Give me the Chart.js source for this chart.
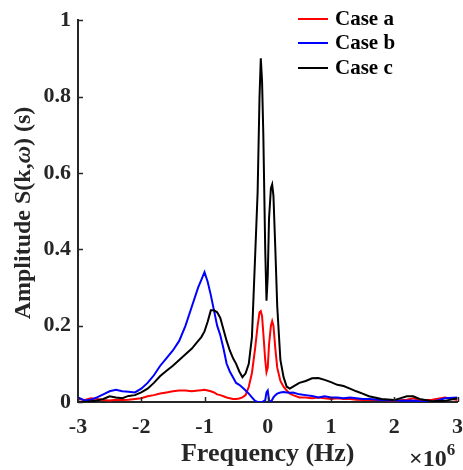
<!DOCTYPE html>
<html>
<head>
<meta charset="utf-8">
<script src="https://cdn.jsdelivr.net/npm/chart.js@4.4.0/dist/chart.umd.min.js"></script>
<style>
  html, body { margin: 0; padding: 0; background: #fff; overflow: hidden; }
  #wrap { width: 475px; height: 470px; }
</style>
</head>
<body>
<div id="wrap"><canvas id="myChart" width="475" height="470"></canvas></div>
<script>
// frequency in units of 1e6 Hz
const freq = [-3.0, -2.9, -2.8, -2.7, -2.6, -2.5, -2.4, -2.3, -2.2, -2.1,
  -2.0, -1.9, -1.8, -1.7, -1.6, -1.5, -1.4, -1.3, -1.2, -1.1,
  -1.05, -1.0, -0.95, -0.9, -0.85, -0.8, -0.75, -0.7, -0.65, -0.6,
  -0.55, -0.5, -0.45, -0.4, -0.35, -0.3, -0.25, -0.2, -0.16, -0.13,
  -0.11, -0.09, -0.07, -0.04, -0.02, 0.0, 0.02, 0.05, 0.07, 0.09,
  0.12, 0.15, 0.2, 0.25, 0.3, 0.35, 0.4, 0.5, 0.6, 0.7,
  0.8, 0.9, 1.0, 1.1, 1.2, 1.3, 1.4, 1.5, 1.6, 1.8,
  2.0, 2.2, 2.3, 2.4, 2.6, 2.8, 3.0]

const caseA = [0.008, 0.005, 0.010, 0.008, 0.005, 0.004, 0.006, 0.005, 0.006, 0.008,
  0.010, 0.015, 0.018, 0.022, 0.025, 0.028, 0.030, 0.030, 0.028, 0.030,
  0.031, 0.032, 0.030, 0.028, 0.025, 0.020, 0.018, 0.015, 0.012, 0.010,
  0.008, 0.008, 0.009, 0.012, 0.018, 0.040, 0.076, 0.140, 0.200, 0.235,
  0.238, 0.225, 0.180, 0.110, 0.078, 0.090, 0.150, 0.200, 0.212, 0.200,
  0.140, 0.090, 0.055, 0.040, 0.030, 0.022, 0.018, 0.012, 0.012, 0.010,
  0.012, 0.010, 0.008, 0.010, 0.008, 0.008, 0.006, 0.005, 0.006, 0.005,
  0.003, 0.006, 0.010, 0.004, 0.006, 0.012, 0.005]

const caseB = [0.012, 0.004, 0.006, 0.012, 0.020, 0.028, 0.032, 0.028, 0.027, 0.025,
  0.035, 0.050, 0.070, 0.095, 0.115, 0.135, 0.160, 0.200, 0.250, 0.300,
  0.320, 0.340, 0.315, 0.280, 0.240, 0.200, 0.175, 0.140, 0.100, 0.080,
  0.065, 0.050, 0.045, 0.038, 0.030, 0.022, 0.012, 0.003, 0.000, 0.000,
  0.000, 0.000, 0.002, 0.005, 0.025, 0.030, 0.005, 0.000, 0.006, 0.012,
  0.018, 0.022, 0.025, 0.026, 0.025, 0.024, 0.025, 0.020, 0.018, 0.016,
  0.012, 0.015, 0.012, 0.012, 0.010, 0.012, 0.010, 0.008, 0.008, 0.005,
  0.004, 0.003, 0.004, 0.002, 0.000, 0.010, 0.012]

const caseC = [0.000, 0.000, 0.002, 0.004, 0.008, 0.015, 0.012, 0.010, 0.016, 0.018,
  0.025, 0.035, 0.050, 0.068, 0.082, 0.095, 0.110, 0.125, 0.140, 0.160,
  0.170, 0.185, 0.210, 0.240, 0.240, 0.235, 0.220, 0.190, 0.160, 0.135,
  0.115, 0.100, 0.080, 0.065, 0.075, 0.100, 0.170, 0.380, 0.550, 0.800,
  0.900, 0.840, 0.700, 0.400, 0.265, 0.330, 0.480, 0.560, 0.570, 0.540,
  0.400, 0.250, 0.110, 0.065, 0.040, 0.035, 0.040, 0.050, 0.055, 0.062,
  0.063, 0.058, 0.052, 0.045, 0.042, 0.035, 0.028, 0.022, 0.015, 0.008,
  0.005, 0.015, 0.015, 0.008, 0.002, 0.003, 0.010]

const seriesNames = ['Case a', 'Case b', 'Case c']
const xTicks = [-3, -2, -1, 0, 1, 2, 3]
const yTicks = [0, 0.2, 0.4, 0.6, 0.8, 1]

const FONT = '"Liberation Serif", "Times New Roman", serif'
const AXIS = '#262626'

function pts(vals) {
  return freq.map((f, i) => ({ x: f, y: vals[i] }))
}

// inward ticks, legend, y title with italic omega, x10^6 label
const extras = {
  id: 'extras',
  afterDraw(chart) {
    const ctx = chart.ctx
    const xs = chart.scales.x, ys = chart.scales.y
    const { left, bottom } = chart.chartArea
    ctx.save()
    ctx.strokeStyle = AXIS
    ctx.lineWidth = 1.5
    yTicks.forEach(v => {
      const py = Math.round(ys.getPixelForValue(v)) + 0.5
      ctx.beginPath(); ctx.moveTo(left, py); ctx.lineTo(left + 5, py); ctx.stroke()
    })
    xTicks.forEach(v => {
      const px = Math.round(xs.getPixelForValue(v)) + 0.5
      ctx.beginPath(); ctx.moveTo(px, bottom); ctx.lineTo(px, bottom - 5); ctx.stroke()
    })

    // legend
    ctx.textBaseline = 'middle'
    ctx.textAlign = 'left'
    ctx.font = 'bold 21px ' + FONT
    const rows = [19, 43, 68]
    chart.data.datasets.forEach((ds, i) => {
      ctx.strokeStyle = ds.borderColor
      ctx.lineWidth = 2
      ctx.beginPath(); ctx.moveTo(298, rows[i]); ctx.lineTo(328, rows[i]); ctx.stroke()
      ctx.fillStyle = '#000'
      ctx.fillText(ds.label, 335, rows[i] + 1)
    })

    // y title
    const parts = [
      ['Amplitude S(k,', 'bold 24px ' + FONT],
      ['\u03c9', 'italic bold 24px ' + FONT],
      [') (s)', 'bold 24px ' + FONT]
    ]
    let total = 0
    parts.forEach(p => { ctx.font = p[1]; total += ctx.measureText(p[0]).width })
    ctx.translate(24, 213)
    ctx.rotate(-Math.PI / 2)
    ctx.fillStyle = AXIS
    let cx = -total / 2
    parts.forEach(p => {
      ctx.font = p[1]
      ctx.fillText(p[0], cx, 0)
      cx += ctx.measureText(p[0]).width
    })
    ctx.restore()

    // exponent label
    ctx.save()
    ctx.fillStyle = AXIS
    ctx.textBaseline = 'alphabetic'
    ctx.font = 'bold 24px ' + FONT
    ctx.fillText('\u00d710', 409, 466)
    const w = ctx.measureText('\u00d710').width
    ctx.font = 'bold 17px ' + FONT
    ctx.fillText('6', 409 + w, 455)
    ctx.restore()
  }
}

const config = {
  type: 'line',
  data: {
    datasets: [
      { label: seriesNames[0], data: pts(caseA), borderColor: '#ff0000', order: 3 },
      { label: seriesNames[1], data: pts(caseB), borderColor: '#0000ff', order: 2 },
      { label: seriesNames[2], data: pts(caseC), borderColor: '#000000', order: 1 }
    ]
  },
  options: {
    responsive: false,
    animation: false,
    layout: { padding: { top: 20, right: 14, left: 0, bottom: 0 } },
    elements: {
      line: { borderWidth: 2, tension: 0, fill: false },
      point: { radius: 0 }
    },
    plugins: { legend: { display: false }, tooltip: { enabled: false } },
    scales: {
      x: {
        type: 'linear',
        min: -3, max: 3,
        afterBuildTicks: s => { s.ticks = xTicks.map(v => ({ value: v })) },
        afterFit: s => { s.height = 68 },
        grid: { display: false, drawTicks: false },
        border: { display: true, color: AXIS, width: 2 },
        ticks: { color: AXIS, padding: 12, font: { family: FONT, size: 22, weight: 'bold' } },
        title: { display: true, text: 'Frequency (Hz)', color: AXIS, padding: { top: 0, bottom: 0 },
          font: { family: FONT, size: 26, weight: 'bold' } }
      },
      y: {
        min: 0, max: 1,
        afterBuildTicks: s => { s.ticks = yTicks.map(v => ({ value: v })) },
        afterFit: s => { s.width = 78 },
        grid: { display: false, drawTicks: false },
        border: { display: true, color: AXIS, width: 2 },
        ticks: { color: AXIS, padding: 7, font: { family: FONT, size: 22, weight: 'bold' },
          callback: v => String(v) }
      }
    }
  },
  plugins: [extras]
}

const myChart = new Chart(document.getElementById('myChart'), config)
</script>
</body>
</html>
